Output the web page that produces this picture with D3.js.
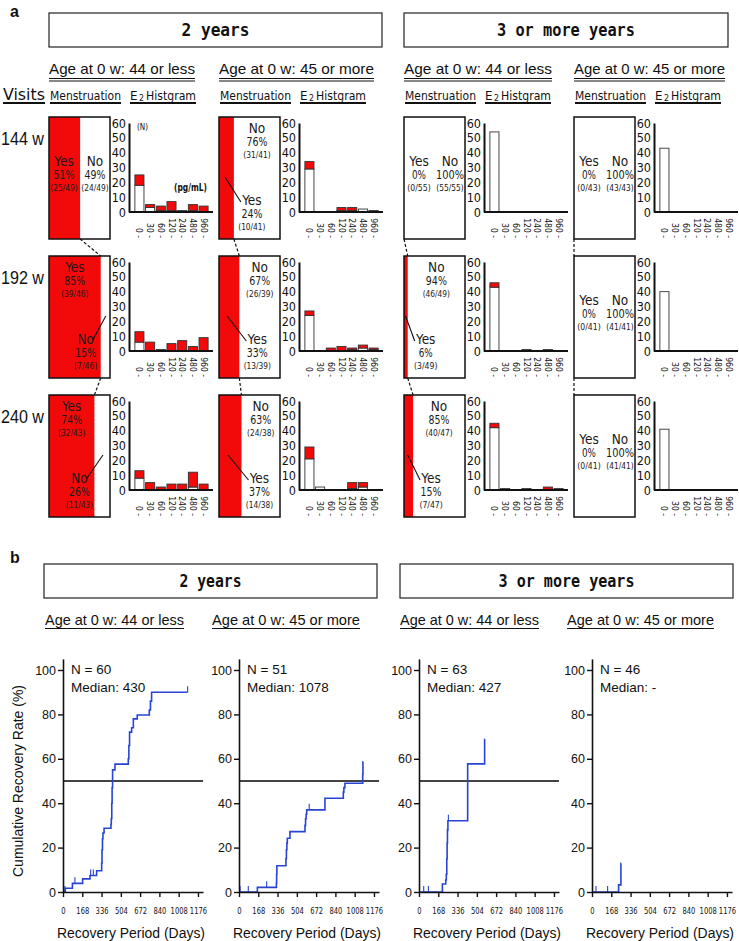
<!DOCTYPE html>
<html><head><meta charset="utf-8">
<script src="https://cdn.jsdelivr.net/npm/d3@7"></script>
<style>body{margin:0;background:#fff} svg{display:block}</style>
</head><body><svg id="c" width="739" height="941"></svg>
<script>
// ---------- DATA ----------
const durations = ["2 years", "3 or more years"];
const ageGroups = ["Age at 0 w: 44 or less", "Age at 0 w: 45 or more"];
const visits = ["144", "192", "240"];
const e2Bins = ["0 -","30 -","60 -","120 -","240 -","480 -","960 -"];
const histTicks = [0,10,20,30,40,50,60];
// menstruation: yes counts and totals [group][visit]
const mensYes   = [[25,39,32],[10,13,14],[0,3,7],[0,0,0]];
const mensTotal = [[49,46,43],[41,39,38],[55,49,47],[43,41,41]];
// E2 histogram counts [group][visit][bin]: without menstruation (white) / with (red)
const histNo = [
  [[18,3,1,1,1,1,0],[6,0,0,0,0,0,0],[8,0,0,0,0,2,0]],
  [[29,0,0,1,1,2,1],[24,0,0,0,1,2,1],[21,2,0,0,1,2,0]],
  [[54,0,0,0,0,0,0],[43,0,0,1,0,1,0],[42,1,0,1,0,0,1]],
  [[43,0,0,0,0,0,0],[40,0,0,0,0,0,0],[41,0,0,0,0,0,0]]
];
const histYes = [
  [[7,2,3,6,0,4,4],[7,6,1,5,7,3,9],[5,5,2,4,4,10,4]],
  [[5,0,0,2,2,0,0],[3,0,2,3,1,2,1],[8,0,0,0,4,3,0]],
  [[0,0,0,0,0,0,0],[3,0,0,0,0,0,0],[3,0,0,0,0,2,0]],
  [[0,0,0,0,0,0,0],[0,0,0,0,0,0,0],[0,0,0,0,0,0,0]]
];
// Kaplan-Meier (panel b)
const kmN = [60, 51, 63, 46];
const kmMedian = ["430", "1078", "427", "-"];
const kmDayTicks = [0,168,336,504,672,840,1008,1176];
const kmPctTicks = [0,20,40,60,80,100];
const km1 = [[0,0],[20,1.7],[82,3.9],[171,5.9],[235,7.4],[293,9.6],[337,13],[340,19],[344,24],[348,26.6],[358,28.7],[418,30.5],[421,33],[425,40],[428,47],[432,55],[453,57.6],[569,60],[574,66],[580,72],[598,74],[613,78],[647,79.7],[752,82],[762,86],[772,90]];
const km2 = [[0,0],[160,2.1],[326,4],[328,8],[330,11.8],[409,15],[413,19],[417,22],[421,24.2],[444,27.2],[575,30],[580,33],[585,35],[590,37],[749,42.2],[909,45],[914,47],[923,49],[1078,53],[1080,58.7]];
const km3 = [[0,0],[204,3.6],[233,5.4],[238,8],[242,15],[245,22],[248,28],[252,32.1],[424,57.7],[572,68.8]];
const km4 = [[0,0],[232,3.2],[252,12.9]];
const kmEnd = [1086, 1082, 573, 253];
const kmCensor = [[17,104,241,264,1086],[9,81,241,612],[41,82,256],[35,136]];

// ---------- STYLE / LAYOUT ----------
const RED = "#f20a0a", BLUE = "#2744d4";
const FN = "'Liberation Sans Narrow','Arial Narrow','DejaVu Sans Condensed',sans-serif";
const FS = "'Liberation Sans',Arial,sans-serif";
const FM = "'DejaVu Sans Mono',monospace";
const svg = d3.select("#c");

function text(sel, x, y, s, o = {}) {
  const t = sel.append("text").attr("x", x).attr("y", y).text(s)
    .attr("font-family", o.ff || FS).attr("font-size", o.fs || 12)
    .attr("fill", o.fill || "#111").attr("text-anchor", o.anchor || "start");
  if (o.fw) t.attr("font-weight", o.fw);
  if (o.len) t.attr("textLength", o.len).attr("lengthAdjust", "spacingAndGlyphs");
  return t;
}
function line(sel, x1, y1, x2, y2, w = 1, c = "#111", dash) {
  const l = sel.append("line").attr("x1", x1).attr("y1", y1).attr("x2", x2).attr("y2", y2)
    .attr("stroke", c).attr("stroke-width", w);
  if (dash) l.attr("stroke-dasharray", dash);
  return l;
}

// ---------- PANEL A ----------
text(svg, 10, 17, "a", {fw: "bold", fs: 16});
const titleBoxA = [[49, 382], [404, 728]];
const titleLen = [68, 138];
titleBoxA.forEach((b, i) => {
  svg.append("rect").attr("x", b[0]).attr("y", 13).attr("width", b[1] - b[0]).attr("height", 34)
    .attr("fill", "none").attr("stroke", "#222").attr("stroke-width", 1.2);
  text(svg, (b[0] + b[1]) / 2, 36, durations[i], {ff: FM, fw: "bold", fs: 17, anchor: "middle", len: titleLen[i]});
});

const gx = [49, 219, 404, 574];
const ageLen = [146, 155, 148, 151];
const boxW = 61, boxH = 122;
const rowTop = [117, 256, 395];

text(svg, 3, 100, "Visits", {ff: FN, fs: 16, len: 42});
line(svg, 3, 103, 45, 103, 2.2);

gx.forEach((x0, g) => {
  text(svg, x0, 74, ageGroups[g % 2], {fs: 15, len: ageLen[g]});
  line(svg, x0, 78.5, x0 + ageLen[g], 78.5, 1);
  line(svg, x0, 81, x0 + ageLen[g], 81, 1);
  text(svg, x0 + 1, 100, "Menstruation", {ff: FN, fs: 13, len: 71});
  line(svg, x0 + 1, 103, x0 + 72, 103, 2.2);
  text(svg, x0 + 81, 100, "E", {ff: FN, fs: 13, len: 7.5});
  text(svg, x0 + 90, 101, "2", {ff: FN, fs: 8.5, len: 5});
  text(svg, x0 + 97, 100, "Histgram", {ff: FN, fs: 13, len: 50});
  line(svg, x0 + 81, 103, x0 + 147, 103, 2.2);
});

visits.forEach((v, r) => {
  text(svg, 1, rowTop[r] + 28, v + " w", {fs: 19, len: 43});
});

function label3(x, ymid, head, pct, frac) {
  text(svg, x, ymid - 12, head, {ff: FN, fs: 13.5, anchor: "middle", fill: "#1a1a1a"});
  text(svg, x, ymid + 1, pct, {ff: FN, fs: 13, anchor: "middle", fill: "#1a1a1a", len: pct.length * 7});
  text(svg, x, ymid + 13, frac, {ff: FN, fs: 9, anchor: "middle", fill: "#1a1a1a", len: frac.length * 3.9});
}

gx.forEach((x0, g) => {
  visits.forEach((v, r) => {
    const T = rowTop[r];
    const yes = mensYes[g][r], tot = mensTotal[g][r], no = tot - yes;
    const yesPct = Math.round(yes / tot * 100), noPct = 100 - yesPct;
    const bx = x0 + boxW * yes / tot;
    svg.append("rect").attr("x", x0).attr("y", T).attr("width", bx - x0).attr("height", boxH).attr("fill", RED);
    svg.append("rect").attr("x", x0).attr("y", T).attr("width", boxW).attr("height", boxH)
      .attr("fill", "none").attr("stroke", "#111").attr("stroke-width", 1.5);
    if (r < visits.length - 1) {
      const bx2 = x0 + boxW * mensYes[g][r + 1] / mensTotal[g][r + 1];
      line(svg, bx, T + boxH, bx2, rowTop[r + 1], 1.2, "#111", "3,2");
    }
    const yesL = ["Yes", yesPct + "%", "(" + yes + "/" + tot + ")"];
    const noL = ["No", noPct + "%", "(" + no + "/" + tot + ")"];
    if (yes === 0 || Math.abs(yesPct - 50) <= 5) {
      label3(x0 + 15, T + boxH / 2, ...yesL);
      label3(x0 + 46, T + boxH / 2, ...noL);
    } else if (yesPct < 50) {
      label3((bx + x0 + boxW) / 2, T + 28, ...noL);
      const lx = bx + 18;
      label3(lx, T + 100, ...yesL);
      line(svg, x0 + (bx - x0) * 0.4, T + 60, lx - 11, T + 85, 1.1);
    } else {
      label3((x0 + bx) / 2, T + 28, ...yesL);
      const lx = bx - 15;
      label3(lx, T + 100, ...noL);
      line(svg, bx + (x0 + boxW - bx) * 0.55, T + 60, lx + 7, T + 84, 1.1);
    }

    // histogram
    const ax = x0 + 80;
    const xb = d3.scaleBand().domain(e2Bins).range([ax, ax + 85]).paddingInner(0.15).paddingOuter(0.55);
    const yh = d3.scaleLinear().domain([0, 60]).range([T + 95, T + 6]);
    const rows = e2Bins.map((b, i) => ({bin: b, no: histNo[g][r][i], yes: histYes[g][r][i]}));
    const stack = d3.stack().keys(["no", "yes"])(rows);
    const hg = svg.append("g");
    stack.forEach((layer, li) => {
      hg.selectAll(null).data(layer.filter(d => d[1] > d[0])).join("rect")
        .attr("x", d => xb(d.data.bin)).attr("width", xb.bandwidth())
        .attr("y", d => yh(d[1])).attr("height", d => yh(d[0]) - yh(d[1]))
        .attr("fill", li === 0 ? "#fff" : RED)
        .attr("stroke", "#333").attr("stroke-width", 0.9);
    });
    const ya = hg.append("g").attr("transform", `translate(${ax},0)`)
      .call(d3.axisLeft(yh).tickValues(histTicks).tickSize(0).tickPadding(3));
    ya.select(".domain").attr("stroke", "#111").attr("stroke-width", 2);
    ya.selectAll("text").attr("font-family", FN).attr("font-size", 12.5).attr("fill", "#111");
    line(hg, ax, yh(0), ax + 84, yh(0), 2);
    hg.selectAll(null).data(e2Bins).join("text")
      .attr("transform", d => `translate(${xb(d) + xb.bandwidth() / 2 - 3},${yh(0) + 26}) rotate(90)`)
      .attr("text-anchor", "end").attr("font-family", FN).attr("font-size", 8.5).attr("fill", "#111")
      .text(d => d);
    if (g === 0 && r === 0) {
      text(svg, 137, 130, "(N)", {ff: FN, fs: 8});
      text(svg, 174, 191, "(pg/mL)", {ff: FN, fs: 10, fw: "bold", len: 33});
    }
  });
});

// ---------- PANEL B ----------
text(svg, 10, 563, "b", {fw: "bold", fs: 16});
const titleBoxB = [[44, 377], [400, 733]];
const titleLenB = [62, 136];
titleBoxB.forEach((b, i) => {
  svg.append("rect").attr("x", b[0]).attr("y", 564).attr("width", b[1] - b[0]).attr("height", 34)
    .attr("fill", "none").attr("stroke", "#222").attr("stroke-width", 1.2);
  text(svg, (b[0] + b[1]) / 2, 587, durations[i], {ff: FM, fw: "bold", fs: 17, anchor: "middle", len: titleLenB[i]});
});
const ageXB = [45, 212, 400, 567];
const ageLenB = [139, 148, 139, 147];
ageXB.forEach((x, k) => {
  text(svg, x, 625, ageGroups[k % 2], {fs: 14.5, len: ageLenB[k]});
  line(svg, x, 628.5, x + ageLenB[k], 628.5, 1);
});

text(svg, 0, 0, "Cumulative Recovery Rate (%)", {fs: 15.5, anchor: "middle", len: 192})
  .attr("transform", "translate(23,781) rotate(-90)");

const kmX0 = [63, 239, 419, 592];
const kmCurves = [km1, km2, km3, km4];
kmX0.forEach((x0, k) => {
  const x = d3.scaleLinear().domain([0, 1220]).range([x0, x0 + 140]);
  const y = d3.scaleLinear().domain([0, 105]).range([892, 892 - 105 * 2.22]);
  const g = svg.append("g");
  if (kmMedian[k] !== "-") line(g, x0, y(50), x0 + 140, y(50), 2, "#444");
  const pts = kmCurves[k].concat([[kmEnd[k], kmCurves[k][kmCurves[k].length - 1][1]]]);
  g.append("path").datum(pts)
    .attr("d", d3.line().x(d => x(d[0])).y(d => y(d[1])).curve(d3.curveStepAfter))
    .attr("fill", "none").attr("stroke", BLUE).attr("stroke-width", 1.6);
  kmCensor[k].forEach(c => {
    let val = 0;
    kmCurves[k].forEach(p => { if (p[0] <= c) val = p[1]; });
    line(g, x(c), y(val), x(c), y(val) - 6, 1.1, BLUE);
  });
  const ya = g.append("g").attr("transform", `translate(${x0},0)`)
    .call(d3.axisLeft(y).tickValues(kmPctTicks).tickSize(5).tickSizeOuter(0).tickPadding(2));
  ya.select(".domain").attr("stroke", "#111").attr("stroke-width", 1.6);
  ya.selectAll(".tick line").attr("stroke", "#111").attr("stroke-width", 1.4);
  ya.selectAll("text").attr("font-family", FS).attr("font-size", 12.5).attr("fill", "#111");
  const xa = g.append("g").attr("transform", `translate(0,892)`)
    .call(d3.axisBottom(x).tickValues(kmDayTicks).tickFormat(d3.format("d")).tickSize(5).tickSizeOuter(0).tickPadding(11));
  xa.select(".domain").attr("stroke", "#111").attr("stroke-width", 1.6);
  xa.selectAll(".tick line").attr("stroke", "#111").attr("stroke-width", 1.4);
  xa.selectAll("text").attr("font-family", FN).attr("font-size", 9).attr("fill", "#111")
    .attr("textLength", d => String(d).length * 4.3).attr("lengthAdjust", "spacingAndGlyphs");
  text(g, x0 + 8, 674, "N = " + kmN[k], {fs: 13.5});
  text(g, x0 + 8, 692, "Median: " + kmMedian[k], {fs: 13.5});
  text(g, x0 + 68, 938, "Recovery Period (Days)", {fs: 14, anchor: "middle", len: 148});
});
</script></body></html>
